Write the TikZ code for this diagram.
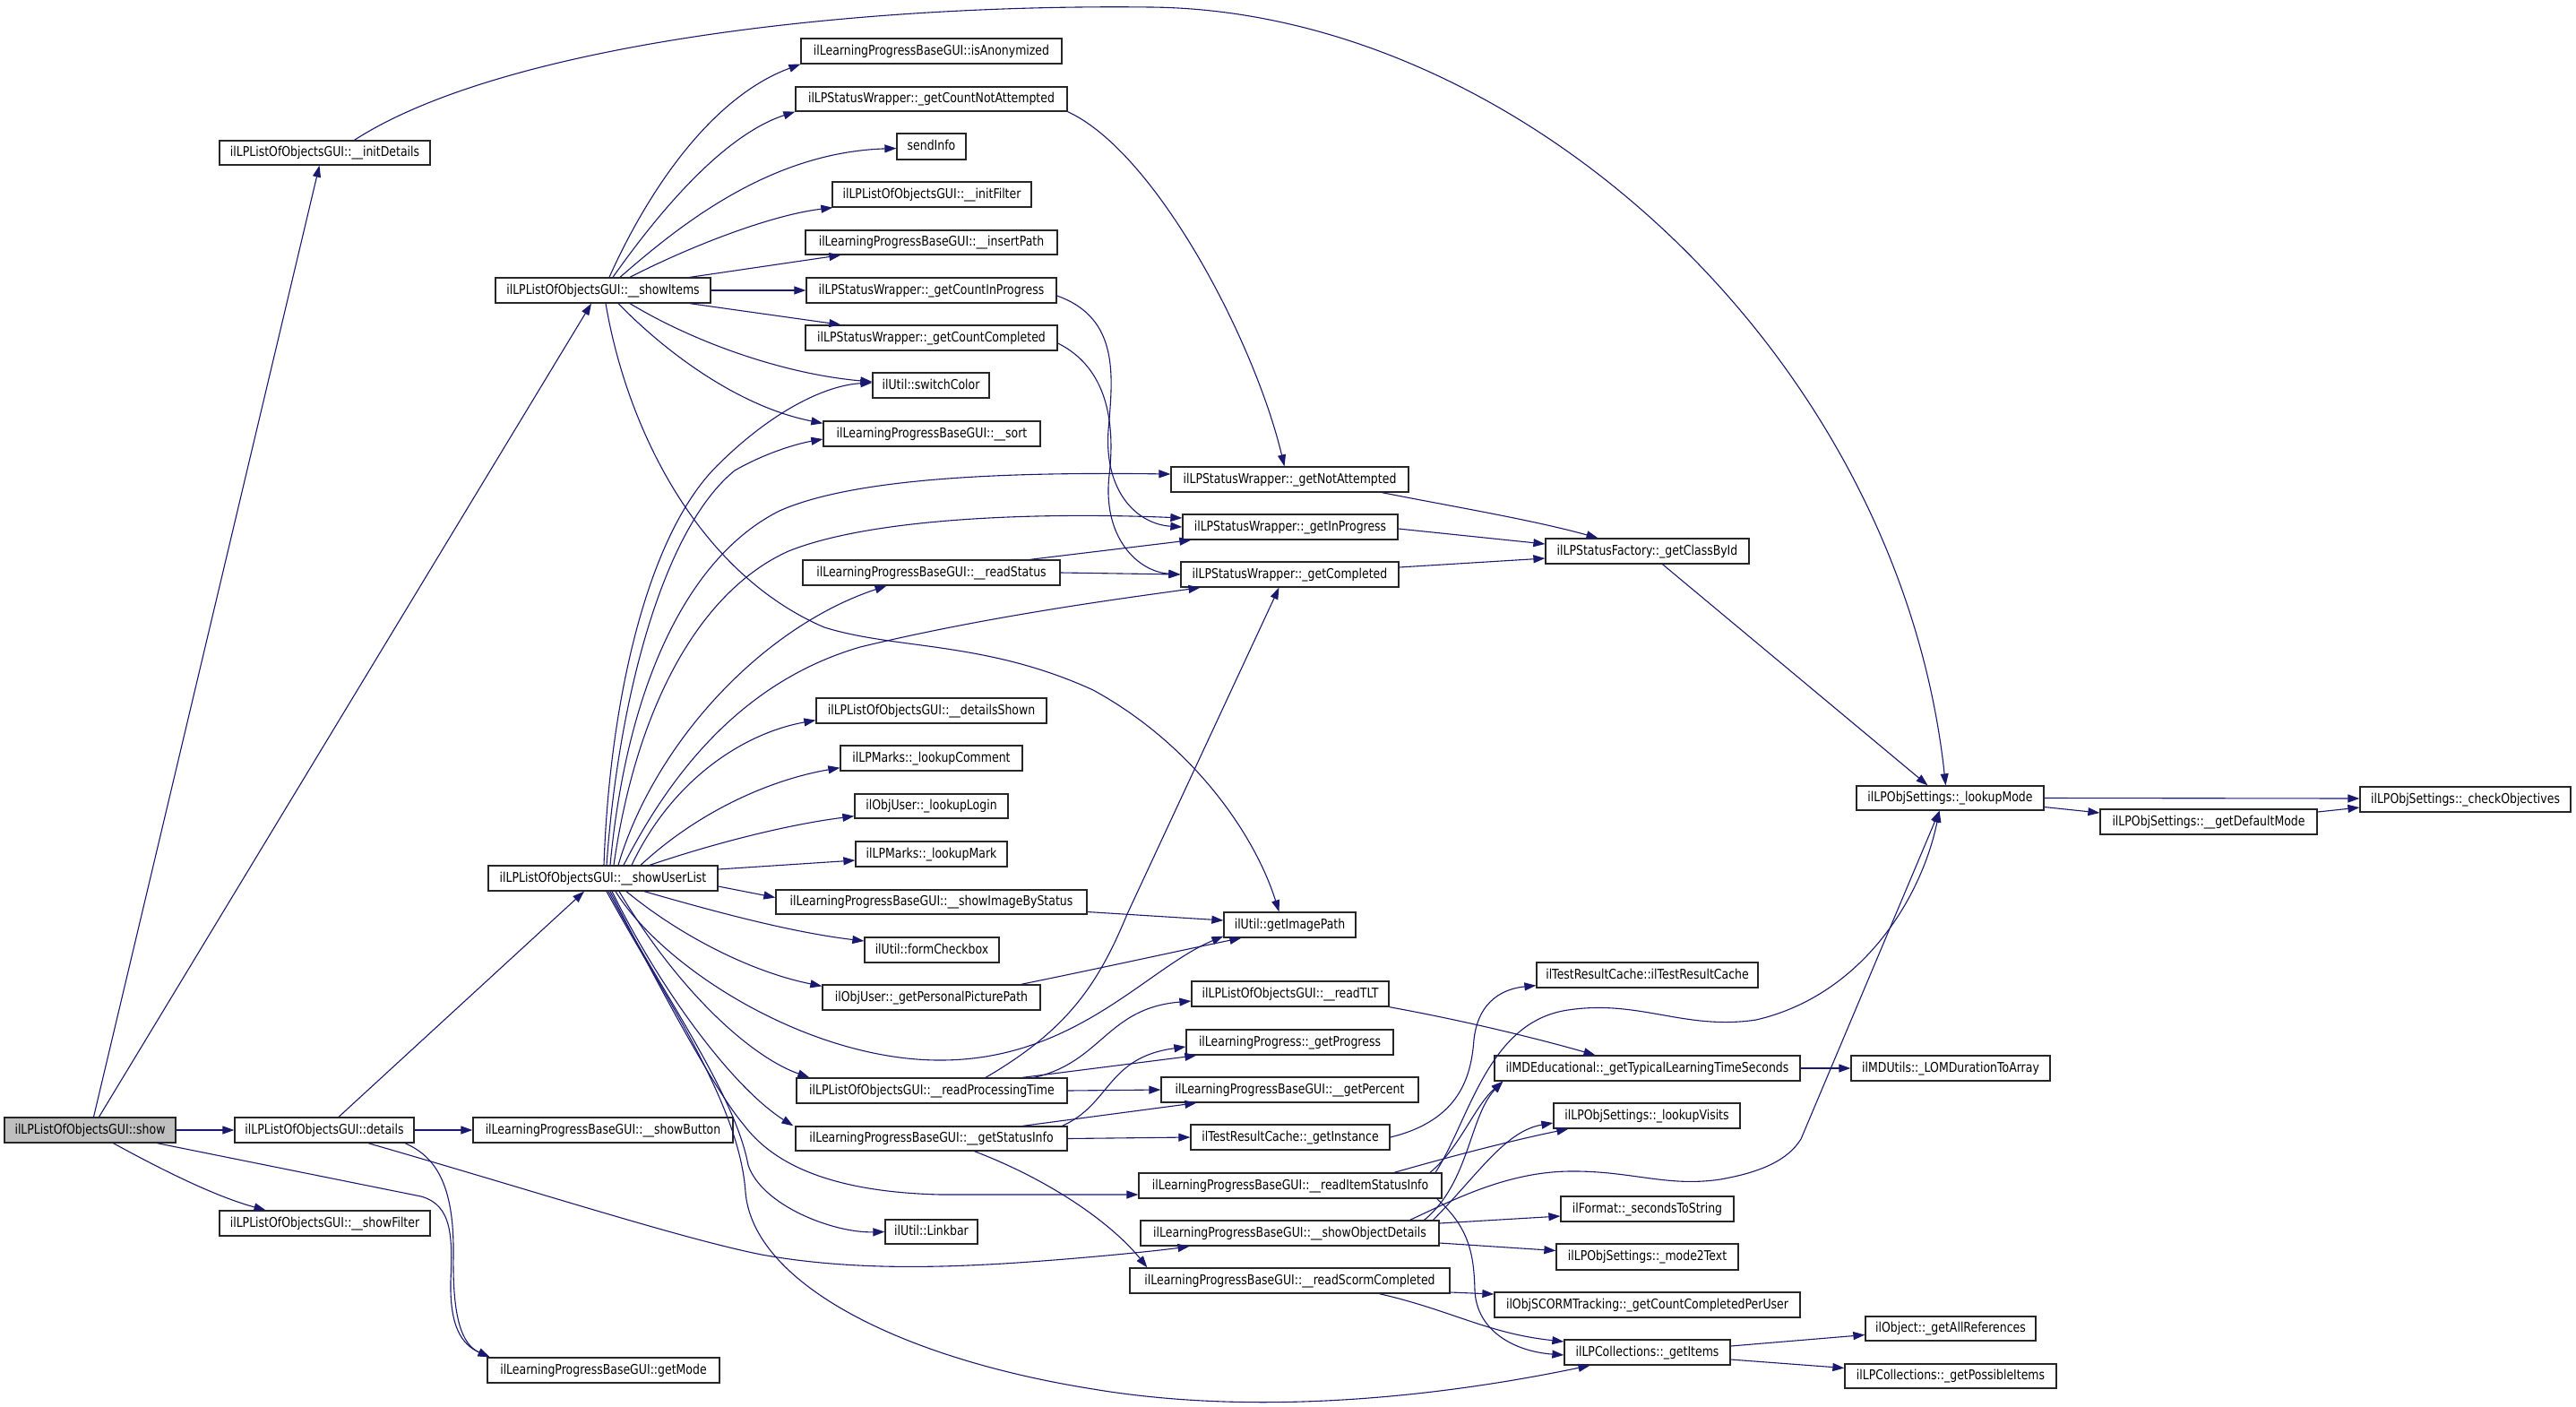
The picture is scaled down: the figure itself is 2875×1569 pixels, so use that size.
\documentclass[tikz,border=0pt]{standalone}
\usepackage{fontspec}
\setmainfont{DejaVu Sans}[FakeStretch=0.833]
\usetikzlibrary{arrows.meta}
\definecolor{edgec}{HTML}{191970}
\definecolor{curfill}{HTML}{BFBFBF}
\tikzset{
  fnode/.style={draw=black!85, line width=1.3pt, fill=white, inner sep=0pt,
    text height=11pt, text depth=3pt, font=\fontsize{15pt}{18pt}\selectfont},
  curnode/.style={fnode, fill=curfill},
  cl/.style={draw=edgec, line width=1.1pt, -{Triangle[length=13pt,width=9pt]}}
}
\newcommand\gnode[7][fnode]{\node[#1, minimum width={(#4-#3)*1pt}, minimum height={(#6-#5)*1pt}] (#2) at ({(#3+#4)/2},{(#5+#6)/2}) {#7};}
\begin{document}
\begin{tikzpicture}[x=1pt,y=-1pt]
\path[use as bounding box, fill=white] (0,0) rectangle (2875,1569);
% nodes
\gnode[curnode]{show}{5}{196}{1247}{1275}{ilLPListOfObjectsGUI::show}
\gnode{initDetails}{245}{480}{157}{184}{ilLPListOfObjectsGUI::\_\_initDetails}
\gnode{showItems}{553}{793}{310}{338}{ilLPListOfObjectsGUI::\_\_showItems}
\gnode{details}{262}{462}{1247}{1275}{ilLPListOfObjectsGUI::details}
\gnode{showFilter}{245}{480}{1351}{1379}{ilLPListOfObjectsGUI::\_\_showFilter}
\gnode{getMode}{544}{803}{1515}{1543}{ilLearningProgressBaseGUI::getMode}
\gnode{showUserList}{545}{801}{966}{994}{ilLPListOfObjectsGUI::\_\_showUserList}
\gnode{showButton}{528}{818}{1247}{1275}{ilLearningProgressBaseGUI::\_\_showButton}
\gnode{isAnonymized}{894}{1185}{43}{71}{ilLearningProgressBaseGUI::isAnonymized}
\gnode{getCountNotAttempted}{888}{1191}{97}{124}{ilLPStatusWrapper::\_getCountNotAttempted}
\gnode{sendInfo}{1001}{1078}{149}{178}{sendInfo}
\gnode{initFilter}{929}{1151}{203}{231}{ilLPListOfObjectsGUI::\_\_initFilter}
\gnode{insertPath}{899}{1180}{257}{284}{ilLearningProgressBaseGUI::\_\_insertPath}
\gnode{getCountInProgress}{900}{1179}{310}{338}{ilLPStatusWrapper::\_getCountInProgress}
\gnode{getCountCompleted}{899}{1180}{363}{391}{ilLPStatusWrapper::\_getCountCompleted}
\gnode{switchColor}{974}{1104}{416}{444}{ilUtil::switchColor}
\gnode{sort}{919}{1161}{470}{498}{ilLearningProgressBaseGUI::\_\_sort}
\gnode{getNotAttempted}{1307}{1572}{521}{549}{ilLPStatusWrapper::\_getNotAttempted}
\gnode{getInProgress}{1320}{1560}{574}{602}{ilLPStatusWrapper::\_getInProgress}
\gnode{readStatus}{896}{1183}{625}{653}{ilLearningProgressBaseGUI::\_\_readStatus}
\gnode{getCompleted}{1318}{1561}{627}{655}{ilLPStatusWrapper::\_getCompleted}
\gnode{getClassById}{1725}{1952}{601}{629}{ilLPStatusFactory::\_getClassById}
\gnode{detailsShown}{911}{1168}{779}{807}{ilLPListOfObjectsGUI::\_\_detailsShown}
\gnode{lookupComment}{938}{1141}{832}{860}{ilLPMarks::\_lookupComment}
\gnode{lookupLogin}{954}{1125}{886}{913}{ilObjUser::\_lookupLogin}
\gnode{lookupMark}{955}{1124}{939}{967}{ilLPMarks::\_lookupMark}
\gnode{showImageByStatus}{866}{1213}{993}{1020}{ilLearningProgressBaseGUI::\_\_showImageByStatus}
\gnode{formCheckbox}{965}{1115}{1046}{1074}{ilUtil::formCheckbox}
\gnode{getPersonalPicturePath}{918}{1161}{1099}{1127}{ilObjUser::\_getPersonalPicturePath}
\gnode{getImagePath}{1366}{1513}{1018}{1046}{ilUtil::getImagePath}
\gnode{readTLT}{1330}{1550}{1095}{1123}{ilLPListOfObjectsGUI::\_\_readTLT}
\gnode{getProgress}{1324}{1555}{1149}{1177}{ilLearningProgress::\_getProgress}
\gnode{readProcessingTime}{889}{1191}{1203}{1231}{ilLPListOfObjectsGUI::\_\_readProcessingTime}
\gnode{getPercent}{1296}{1583}{1202}{1230}{ilLearningProgressBaseGUI::\_\_getPercent}
\gnode{getStatusInfo}{888}{1191}{1257}{1284}{ilLearningProgressBaseGUI::\_\_getStatusInfo}
\gnode{getInstance}{1329}{1551}{1255}{1283}{ilTestResultCache::\_getInstance}
\gnode{readItemStatusInfo}{1271}{1609}{1309}{1337}{ilLearningProgressBaseGUI::\_\_readItemStatusInfo}
\gnode{Linkbar}{988}{1091}{1361}{1388}{ilUtil::Linkbar}
\gnode{showObjectDetails}{1273}{1606}{1362}{1390}{ilLearningProgressBaseGUI::\_\_showObjectDetails}
\gnode{readScormCompleted}{1261}{1618}{1415}{1443}{ilLearningProgressBaseGUI::\_\_readScormCompleted}
\gnode{ilTestResultCache}{1715}{1962}{1074}{1102}{ilTestResultCache::ilTestResultCache}
\gnode{getTypicalLearningTimeSeconds}{1668}{2009}{1178}{1206}{ilMDEducational::\_getTypicalLearningTimeSeconds}
\gnode{LOMDurationToArray}{2066}{2288}{1178}{1206}{ilMDUtils::\_LOMDurationToArray}
\gnode{lookupVisits}{1734}{1942}{1231}{1259}{ilLPObjSettings::\_lookupVisits}
\gnode{secondsToString}{1742}{1935}{1335}{1363}{ilFormat::\_secondsToString}
\gnode{mode2Text}{1737}{1940}{1388}{1417}{ilLPObjSettings::\_mode2Text}
\gnode{getCountCompletedPerUser}{1668}{2009}{1442}{1470}{ilObjSCORMTracking::\_getCountCompletedPerUser}
\gnode{getItems}{1746}{1931}{1495}{1523}{ilLPCollections::\_getItems}
\gnode{getAllReferences}{2082}{2272}{1469}{1496}{ilObject::\_getAllReferences}
\gnode{getPossibleItems}{2059}{2295}{1522}{1549}{ilLPCollections::\_getPossibleItems}
\gnode{lookupMode}{2072}{2281}{877}{904}{ilLPObjSettings::\_lookupMode}
\gnode{getDefaultMode}{2344}{2586}{903}{931}{ilLPObjSettings::\_\_getDefaultMode}
\gnode{checkObjectives}{2634}{2869}{878}{906}{ilLPObjSettings::\_checkObjectives}
% edges from show
\draw[cl] ([xshift=4pt]show.north) -- ([xshift=-6pt]initDetails.south);
\draw[cl] ([xshift=10pt]show.north) -- ([xshift=-13pt]showItems.south);
\draw[cl] (show.east) -- (details.west);
\draw[cl] ([xshift=26pt]show.south) .. controls (180,1305) and (240,1335) .. ([xshift=-66pt]showFilter.north);
\draw[cl] ([xshift=75pt]show.south) -- (470,1335) .. controls (505,1345) and (505,1380) .. (503,1430) .. controls (502,1480) and (515,1500) .. ([xshift=-127pt]getMode.north);
% details
\draw[cl] ([xshift=90pt]details.south) .. controls (485,1290) and (507,1320) .. (506,1400) .. controls (505,1470) and (515,1500) .. ([xshift=-127pt]getMode.north);
\draw[cl] ([xshift=16pt]details.north) -- ([xshift=-21pt]showUserList.south);
\draw[cl] (details.east) -- (showButton.west);
\draw[cl] ([xshift=49pt]details.south) .. controls (600,1330) and (760,1382) .. (850,1400) .. controls (950,1418) and (1050,1414) .. (1120,1410) .. controls (1200,1405) and (1290,1396) .. ([xshift=-112pt]showObjectDetails.south);
% initDetails
\draw[cl] ([xshift=33pt]initDetails.north) .. controls (560,50) and (950,4) .. (1284,8) .. controls (1700,12) and (2120,400) .. ([xshift=-5pt]lookupMode.north);
% showItems
\draw[cl] ([xshift=7pt]showItems.north) .. controls (720,220) and (790,110) .. (isAnonymized.south west);
\draw[cl] ([xshift=11pt]showItems.north) .. controls (740,230) and (810,150) .. (getCountNotAttempted.south west);
\draw[cl] ([xshift=19pt]showItems.north) .. controls (760,250) and (860,170) .. ([yshift=-2pt]sendInfo.west);
\draw[cl] ([xshift=30pt]showItems.north) .. controls (770,275) and (860,240) .. ([xshift=1pt]initFilter.south west);
\draw[cl] ([xshift=97pt]showItems.north) -- ([xshift=40pt]insertPath.south west);
\draw[cl] (showItems.east) -- (getCountInProgress.west);
\draw[cl] ([xshift=97pt]showItems.south) -- ([xshift=40pt]getCountCompleted.north west);
\draw[cl] ([xshift=30pt]showItems.south) .. controls (780,385) and (880,418) .. ([yshift=4pt]switchColor.west);
\draw[cl] ([xshift=17pt]showItems.south) .. controls (750,400) and (830,455) .. ([yshift=-3pt]sort.north west);
\draw[cl] ([xshift=3pt]showItems.south) .. controls (700,480) and (780,640) .. (920,700) .. controls (1000,725) and (1100,715) .. (1220,770) .. controls (1330,830) and (1400,930) .. ([xshift=-12pt]getImagePath.north);
% status wrapper counts
\draw[cl] (getCountNotAttempted.south east) .. controls (1290,170) and (1400,380) .. ([xshift=-6pt]getNotAttempted.north);
\draw[cl] ([yshift=-6pt]getCountInProgress.east) .. controls (1250,355) and (1242,420) .. (1237,480) .. controls (1232,550) and (1270,585) .. (getInProgress.west);
\draw[cl] ([yshift=-6pt]getCountCompleted.east) .. controls (1235,410) and (1245,470) .. (1238,530) .. controls (1230,600) and (1270,638) .. (getCompleted.west);
% showUserList upward
\draw[cl] ([xshift=1pt]showUserList.north) .. controls (680,790) and (720,600) .. (800,520) .. controls (860,460) and (920,430) .. ([yshift=3pt]switchColor.west);
\draw[cl] ([xshift=4pt]showUserList.north) .. controls (690,780) and (740,590) .. (820,525) .. controls (855,505) and (890,495) .. ([yshift=-6pt]sort.west);
\draw[cl] ([xshift=8pt]showUserList.north) .. controls (700,760) and (770,620) .. (870,570) .. controls (960,530) and (1150,527) .. ([yshift=6pt]getNotAttempted.west);
\draw[cl] ([xshift=12pt]showUserList.north) .. controls (710,790) and (780,660) .. (880,615) .. controls (980,575) and (1180,572) .. ([yshift=10pt]getInProgress.west);
\draw[cl] ([xshift=17pt]showUserList.north) .. controls (730,830) and (850,700) .. ([xshift=-50pt]readStatus.south);
\draw[cl] ([xshift=23pt]showUserList.north) .. controls (750,860) and (830,760) .. (960,722) .. controls (1100,688) and (1250,668) .. ([xshift=-100pt]getCompleted.south);
\draw[cl] ([xshift=32pt]showUserList.north) .. controls (750,870) and (830,818) .. ([yshift=4pt]detailsShown.south west);
\draw[cl] ([xshift=42pt]showUserList.north) .. controls (780,905) and (860,870) .. ([yshift=4pt]lookupComment.south west);
\draw[cl] ([xshift=52pt]showUserList.north) .. controls (800,940) and (880,920) .. ([yshift=3pt]lookupLogin.south west);
\draw[cl] ([yshift=10pt]showUserList.east) -- ([yshift=-7pt]lookupMark.west);
\draw[cl] ([yshift=-9pt]showUserList.east) -- ([yshift=5pt]showImageByStatus.west);
% showUserList downward
\draw[cl] ([xshift=46pt]showUserList.south) .. controls (790,1015) and (880,1040) .. ([yshift=10pt]formCheckbox.west);
\draw[cl] ([xshift=26pt]showUserList.south) .. controls (760,1045) and (840,1085) .. ([yshift=-2pt]getPersonalPicturePath.north west);
\draw[cl] ([xshift=14pt]showUserList.south) .. controls (740,1080) and (900,1182) .. (1047,1183) .. controls (1200,1184) and (1280,1080) .. ([yshift=2pt]getImagePath.south west);
\draw[cl] ([xshift=18pt]showUserList.south) .. controls (760,1110) and (840,1180) .. ([xshift=15pt]readProcessingTime.north west);
\draw[cl] ([xshift=10pt]showUserList.south) .. controls (740,1110) and (820,1215) .. ([xshift=-2pt]getStatusInfo.north west);
\draw[cl] ([xshift=8pt]showUserList.south) .. controls (740,1110) and (800,1220) .. (830,1255) .. controls (860,1295) and (920,1330) .. (1050,1333) -- ([yshift=-10pt]readItemStatusInfo.west);
\draw[cl] ([xshift=6pt]showUserList.south) .. controls (740,1110) and (820,1220) .. (835,1300) .. controls (850,1345) and (930,1376) .. (Linkbar.west);
\draw[cl] ([xshift=4pt]showUserList.south) .. controls (740,1110) and (825,1230) .. (832,1330) .. controls (840,1430) and (1000,1515) .. (1220,1550) .. controls (1400,1580) and (1600,1560) .. ([xshift=-64pt]getItems.south);
% readStatus and status wrapper
\draw[cl] ([xshift=110pt]readStatus.north) -- ([xshift=10pt]getInProgress.south west);
\draw[cl] (readStatus.east) -- (getCompleted.west);
\draw[cl] ([xshift=103pt]getNotAttempted.south) .. controls (1620,565) and (1710,580) .. ([xshift=-55pt]getClassById.north);
\draw[cl] ([yshift=-2pt]getInProgress.east) -- ([yshift=8pt]getClassById.west);
\draw[cl] ([yshift=8pt]getCompleted.east) -- ([yshift=-8pt]getClassById.west);
\draw[cl] ([xshift=17pt]getClassById.south) -- ([xshift=-25pt]lookupMode.north);
% image path
\draw[cl] ([yshift=-11pt]showImageByStatus.east) -- ([yshift=5pt]getImagePath.west);
\draw[cl] ([xshift=100pt]getPersonalPicturePath.north) .. controls (1230,1080) and (1320,1060) .. ([xshift=20pt]getImagePath.south west);
% readProcessingTime
\draw[cl] ([xshift=114pt]readProcessingTime.north) .. controls (1230,1185) and (1235,1125) .. ([yshift=-8pt]readTLT.west);
\draw[cl] ([xshift=101pt]readProcessingTime.north) -- ([xshift=12pt]getProgress.south west);
\draw[cl] (readProcessingTime.east) -- (getPercent.west);
\draw[cl] ([xshift=60pt]readProcessingTime.north) .. controls (1190,1150) and (1225,1100) .. (1258,1020) -- ([xshift=-12pt]getCompleted.south);
\draw[cl] (readTLT.south east) .. controls (1640,1140) and (1720,1160) .. ([xshift=-58pt]getTypicalLearningTimeSeconds.north);
% getStatusInfo
\draw[cl] ([xshift=146pt]getStatusInfo.north) .. controls (1240,1232) and (1235,1180) .. ([yshift=-5pt]getProgress.west);
\draw[cl] ([xshift=102pt]getStatusInfo.north) -- ([xshift=40pt]getPercent.south west);
\draw[cl] (getStatusInfo.east) -- (getInstance.west);
\draw[cl] ([xshift=48pt]getStatusInfo.south) .. controls (1180,1320) and (1245,1370) .. ([xshift=20pt]readScormCompleted.north west);
\draw[cl] (getInstance.east) .. controls (1630,1250) and (1642,1200) .. (1645,1160) .. controls (1650,1115) and (1680,1103) .. ([yshift=3pt]ilTestResultCache.south west);
% readItemStatusInfo
\draw[cl] ([xshift=156pt]readItemStatusInfo.north) .. controls (1630,1280) and (1645,1235) .. ([xshift=10pt]getTypicalLearningTimeSeconds.south west);
\draw[cl] ([xshift=116pt]readItemStatusInfo.north) .. controls (1620,1290) and (1690,1272) .. ([xshift=17pt]lookupVisits.south west);
\draw[cl] ([xshift=162pt]readItemStatusInfo.north) .. controls (1640,1250) and (1660,1140) .. (1750,1127) .. controls (1830,1115) and (1880,1150) .. (1960,1138) .. controls (2080,1110) and (2145,1000) .. ([xshift=-12pt]lookupMode.south);
\draw[cl] ([xshift=-6pt]readItemStatusInfo.south east) .. controls (1640,1370) and (1645,1400) .. (1646,1440) .. controls (1648,1485) and (1690,1508) .. ([yshift=-3pt]getItems.west);
% showObjectDetails
\draw[cl] ([xshift=134pt]showObjectDetails.north) .. controls (1620,1340) and (1680,1308) .. (1751,1307) .. controls (1820,1306) and (1860,1325) .. (1920,1316) .. controls (1965,1308) and (1995,1295) .. (2010,1271) -- ([xshift=-12pt]lookupMode.south);
\draw[cl] ([xshift=150pt]showObjectDetails.north) .. controls (1640,1320) and (1640,1245) .. ([xshift=10pt]getTypicalLearningTimeSeconds.south west);
\draw[cl] ([xshift=160pt]showObjectDetails.north) .. controls (1650,1310) and (1680,1262) .. ([yshift=-8pt]lookupVisits.west);
\draw[cl] ([yshift=11pt]showObjectDetails.east) -- ([yshift=-8pt]secondsToString.west);
\draw[cl] ([yshift=-11pt]showObjectDetails.east) -- ([yshift=7pt]mode2Text.west);
% readScormCompleted
\draw[cl] ([yshift=-13pt]readScormCompleted.east) -- ([yshift=12pt]getCountCompletedPerUser.west);
\draw[cl] ([xshift=100pt]readScormCompleted.south) .. controls (1620,1462) and (1660,1488) .. ([yshift=12pt]getItems.west);
% right side
\draw[cl] ([yshift=7pt]getItems.east) -- ([yshift=-7pt]getAllReferences.west);
\draw[cl] ([yshift=-8pt]getItems.east) -- ([yshift=9pt]getPossibleItems.west);
\draw[cl] (getTypicalLearningTimeSeconds.east) -- (LOMDurationToArray.west);
\draw[cl] (lookupMode.east) -- ([yshift=1pt]checkObjectives.west);
\draw[cl] ([yshift=-10pt]lookupMode.east) -- ([yshift=10pt]getDefaultMode.west);
\draw[cl] ([yshift=11pt]getDefaultMode.east) -- ([yshift=-9pt]checkObjectives.west);
\end{tikzpicture}
\end{document}
